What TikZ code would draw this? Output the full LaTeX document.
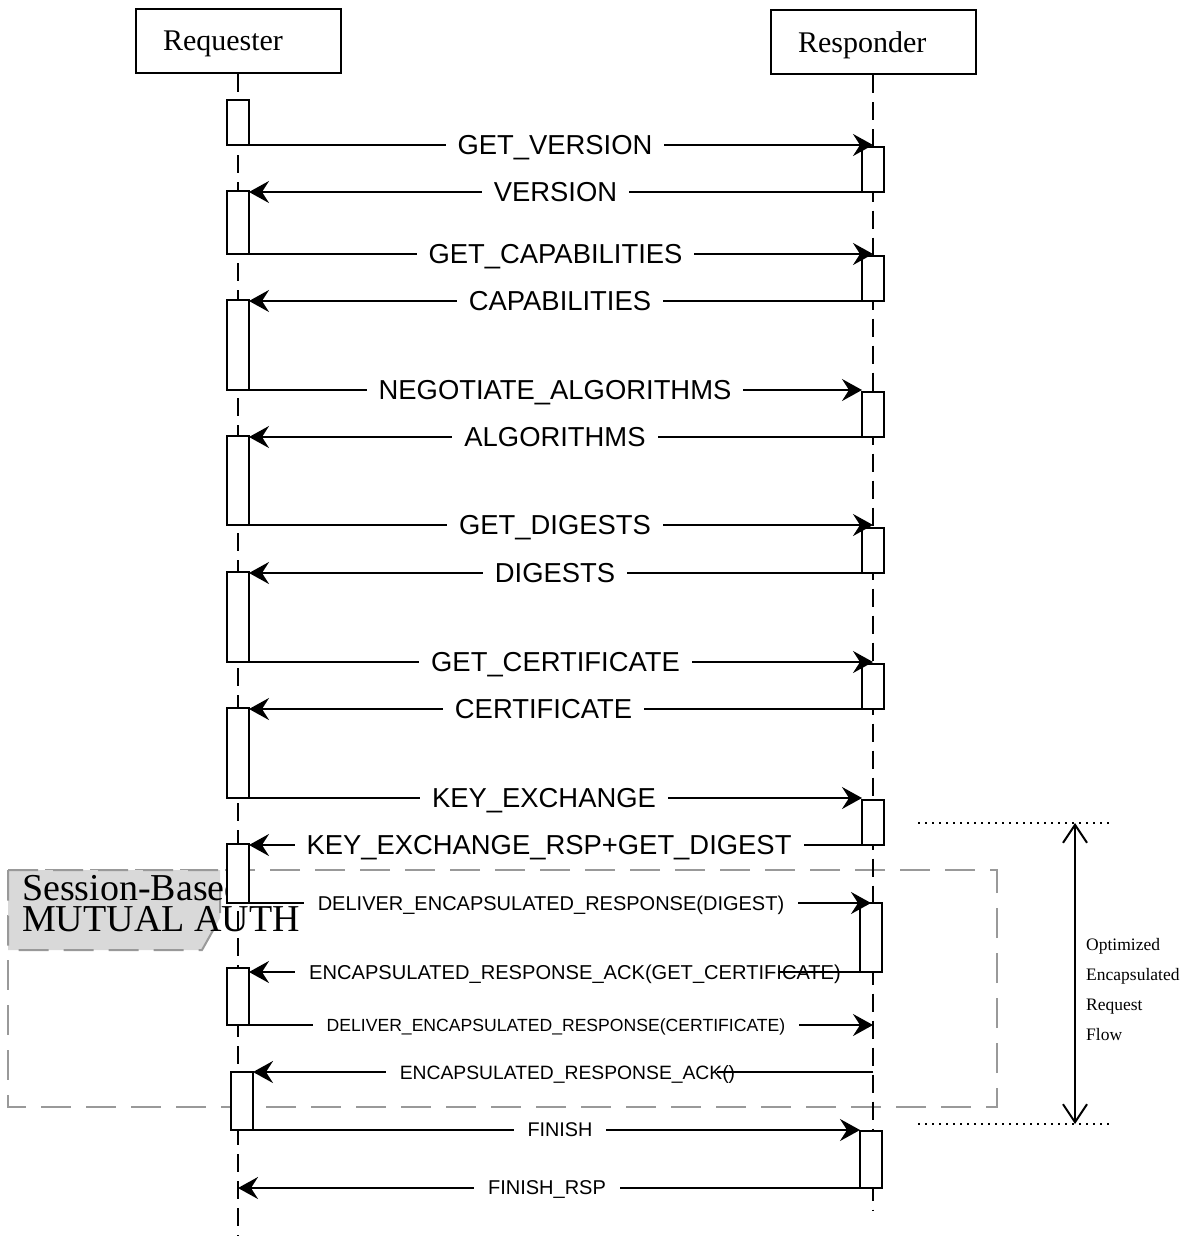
\documentclass[tikz,border=0pt]{standalone}
\usepackage{fontspec}
\setmainfont{Liberation Serif}
\setsansfont{Liberation Sans}
\usetikzlibrary{arrows.meta}

\begin{document}
\begin{tikzpicture}[x=1pt, y=-1pt,
    actor/.style={draw, line width=2pt, minimum width=205pt, minimum height=64pt,
        text width=150pt, inner xsep=27.5pt, align=left, text depth=0pt,
        font=\fontsize{30}{36}\selectfont},
    life/.style={line width=2pt, dash pattern=on 18pt off 9pt},
    act/.style={draw, fill=white, line width=1.6pt, minimum width=22pt,
        inner sep=0pt, outer sep=0pt, anchor=north},
    msg/.style={line width=2.2pt, -{Stealth[length=20pt, width=22pt, inset=7pt]}},
    big/.style={fill=white, inner xsep=12pt, inner ysep=1pt, text depth=0pt,
        font=\sffamily\fontsize{27.4}{30}\selectfont},
    small/.style={fill=white, inner xsep=14pt, inner ysep=1pt, text depth=0pt,
        font=\sffamily\fontsize{#1}{#1}\selectfont},
    small/.default=20,
    frame/.style={draw=black!40, line width=2pt, dash pattern=on 30pt off 15pt},
    span/.style={line width=2pt,
        {Straight Barb[length=18pt, width=24pt]}-{Straight Barb[length=18pt, width=24pt]}},
    dots/.style={line width=2pt, dash pattern=on 2pt off 5pt}
  ]
    \useasboundingbox (0,0) rectangle (1188,1236);

    % Session-Based frame and its tag
    \draw[frame] (8,870) rectangle (997,1107);
    \draw[frame, fill=black!15] (8,870) -- (220,870) -- (220,918) -- (202,950) -- (8,950) -- cycle;
    \node[anchor=north west, align=left, inner sep=0pt, font=\fontsize{38}{31}\selectfont]
        (tag) at (22,874) {Session-Based\\MUTUAL AUTH};

    % Actors and lifelines
    \node[actor] (req) at (238,41) {Requester};
    \node[actor] (rsp) at (873,42.5) {Responder};
    \coordinate (qEnd) at (238,1236);
    \coordinate (rEnd) at (873,1210);
    \draw[life] (req.south) -- (qEnd);
    \draw[life] (rsp.south) -- (rEnd);

    % Requester activations
    \node[act, minimum height=45pt] (q1) at (238,100) {};
    \node[act, minimum height=63pt] (q2) at (238,191) {};
    \node[act, minimum height=90pt] (q3) at (238,300) {};
    \node[act, minimum height=89pt] (q4) at (238,436) {};
    \node[act, minimum height=90pt] (q5) at (238,572) {};
    \node[act, minimum height=90pt] (q6) at (238,708) {};
    \node[act, minimum height=59pt] (q7) at (238,844) {};
    \node[act, minimum height=57pt] (q8) at (238,968) {};
    \node[act, minimum height=58pt] (q9) at (242,1072) {};

    % Responder activations
    \node[act, minimum height=45pt] (r1) at (873,147) {};
    \node[act, minimum height=45pt] (r2) at (873,256) {};
    \node[act, minimum height=45pt] (r3) at (873,392) {};
    \node[act, minimum height=45pt] (r4) at (873,528) {};
    \node[act, minimum height=45pt] (r5) at (873,664) {};
    \node[act, minimum height=45pt] (r6) at (873,800) {};
    \node[act, minimum height=69pt] (r7) at (871,903) {};
    \node[act, minimum height=57pt] (r8) at (871,1131) {};

    % Negotiation
    \draw[msg] (q1.south east) -- (q1.south east -| r1.north);
    \node[big] (m1) at (555,145) {GET\_VERSION};
    \draw[msg] (r1.south west) -- (r1.south west -| q2.east);
    \node[big] (m2) at (555.5,192) {VERSION};
    \draw[msg] (q2.south east) -- (q2.south east -| r2.north);
    \node[big] (m3) at (555.5,254) {GET\_CAPABILITIES};
    \draw[msg] (r2.south west) -- (r2.south west -| q3.east);
    \node[big] (m4) at (560,301) {CAPABILITIES};
    \draw[msg] (q3.south east) -- (q3.south east -| r3.west);
    \node[big] (m5) at (555,390) {NEGOTIATE\_ALGORITHMS};
    \draw[msg] (r3.south west) -- (r3.south west -| q4.east);
    \node[big] (m6) at (555,437) {ALGORITHMS};

    % Digests and certificate
    \draw[msg] (q4.south east) -- (q4.south east -| r4.north);
    \node[big] (m7) at (555,525) {GET\_DIGESTS};
    \draw[msg] (r4.south west) -- (r4.south west -| q5.east);
    \node[big] (m8) at (555,573) {DIGESTS};
    \draw[msg] (q5.south east) -- (q5.south east -| r5.north);
    \node[big] (m9) at (555.5,662) {GET\_CERTIFICATE};
    \draw[msg] (r5.south west) -- (r5.south west -| q6.east);
    \node[big] (m10) at (543.5,709) {CERTIFICATE};

    % Key exchange
    \draw[msg] (q6.south east) -- (q6.south east -| r6.west);
    \node[big] (m11) at (544,798) {KEY\_EXCHANGE};
    \draw[msg] (r6.south west) -- (r6.south west -| q7.east);
    \node[big] (m12) at (549,845) {KEY\_EXCHANGE\_RSP+GET\_DIGEST};

    % Encapsulated requests
    \draw[msg] (q7.south east) -- (q7.south east -| r7.north);
    \node[small] (m13) at (551,903) {DELIVER\_ENCAPSULATED\_RESPONSE(DIGEST)};
    \draw[msg] (r7.south west) -- (r7.south west -| q8.east);
    \node[small=20.1] (m14) at (575,972) {ENCAPSULATED\_RESPONSE\_ACK(GET\_CERTIFICATE)};
    \draw[line width=2.2pt] (r7.south west) -- ([xshift=-77pt]m14.east);
    \draw[msg] (q8.south east) -- (q8.south east -| rsp.south);
    \node[small=17.6] (m15) at (556,1025) {DELIVER\_ENCAPSULATED\_RESPONSE(CERTIFICATE)};
    \draw[msg] (q9.north east -| rsp.south) -- (q9.north east);
    \node[small=19.3] (m16) at (567.5,1072) {ENCAPSULATED\_RESPONSE\_ACK()};
    \draw[line width=2.2pt] (q9.north east -| rsp.south) -- ([xshift=-32pt]m16.east);

    % Finish
    \draw[msg] (q9.south east) -- (q9.south east -| r8.west);
    \node[small=19.8] (m17) at (560,1130) {FINISH};
    \draw[msg] (r8.south west) -- (r8.south west -| req.south);
    \node[small] (m18) at (547,1188) {FINISH\_RSP};

    % Optimized flow span
    \coordinate (dA1) at (918,823);
    \coordinate (dA2) at (1110,823);
    \coordinate (dB1) at (918,1124);
    \coordinate (dB2) at (1110,1124);
    \draw[dots] (dA1) -- (dA2);
    \draw[dots] (dB1) -- (dB2);
    \coordinate (fTop) at (1075,823);
    \coordinate (fBot) at (1075,1124);
    \draw[span] (fTop) -- (fBot);
    \node[anchor=west, align=left, inner sep=0pt, font=\fontsize{17.5}{30}\selectfont]
        (flow) at (1086,990) {Optimized\\Encapsulated\\Request\\Flow};
\end{tikzpicture}
\end{document}
